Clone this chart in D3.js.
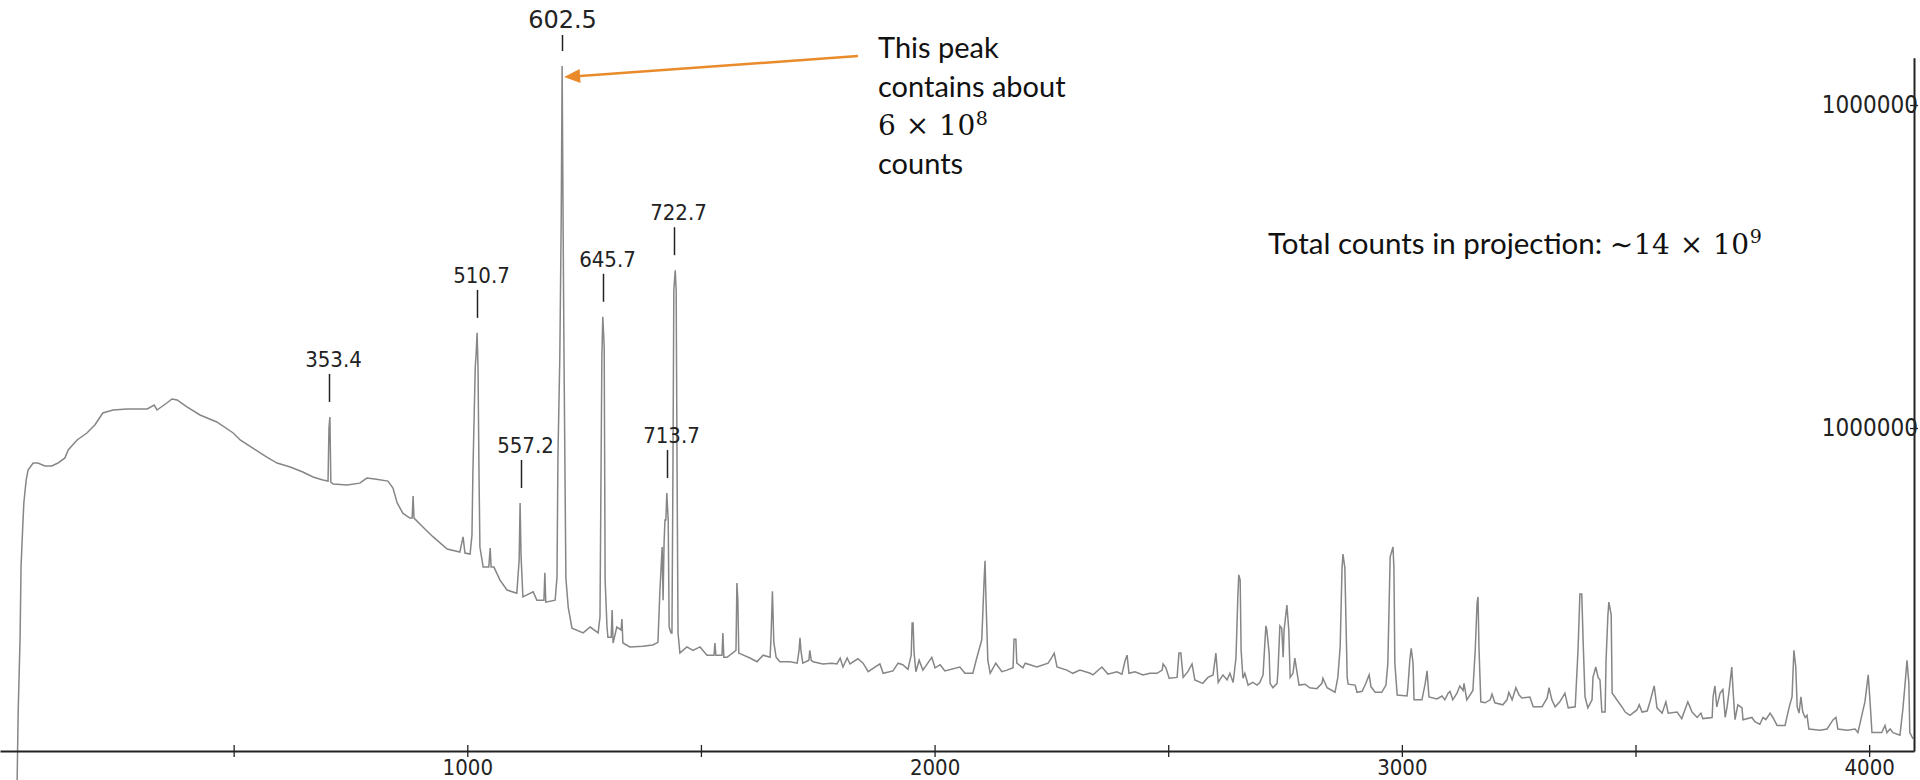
<!DOCTYPE html>
<html>
<head>
<meta charset="utf-8">
<script src="https://cdn.jsdelivr.net/npm/d3@7"></script>
<style>
  html, body { margin: 0; padding: 0; background: #fff; overflow: hidden; }
</style>
</head>
<body>
<div id="chart"></div>
<script>
// projection spectrum: [channel, counts]
const spectrum = [
  [36,70.5e3],[39,133.9e3],[43,225e3],[45,371e3],[49,508e3],[51,586e3],[56,690e3],[60,741e3],[71,779e3],[81,779e3],
  [96,763e3],[111,763e3],[124,779e3],[139,808e3],[146,855e3],[165,918e3],[186,965e3],[203,1022e3],[220,1113e3],[242,1137e3],
  [272,1145e3],[315,1145e3],[330,1178e3],[336,1137e3],[357,1195e3],[368,1230e3],[379,1221e3],[400,1162e3],[428,1097e3],[464,1044e3],
  [499,965e3],[514,918e3],[541,867e3],[571,813e3],[593,779e3],[621,757e3],[648,731e3],[670,705e3],[691,690e3],[702,685e3],
  [704,1000e3],[706,1082e3],[708,680e3],[713,671e3],[743,666e3],[770,675e3],[785,700e3],[802,695e3],[830,685e3],[841,652e3],
  [850,586e3],[862,545e3],[877,526e3],[882,526e3],[884,616e3],[886,526e3],[905,494e3],[927,460e3],[957,422e3],[984,413e3],
  [991,460e3],[995,410e3],[1006,407e3],[1010,466e3],[1012,725e3],[1017,1534e3],[1019,1707e3],[1021,1970e3],[1023,1534e3],[1025,741e3],
  [1027,428e3],[1034,371e3],[1046,371e3],[1049,425e3],[1051,371e3],[1057,371e3],[1070,338e3],[1085,315e3],[1106,308e3],[1111,390e3],
  [1113,586e3],[1115,404e3],[1119,300e3],[1141,311e3],[1149,293e3],[1164,293e3],[1166,356e3],[1168,289e3],[1188,293e3],[1192,346e3],
  [1194,813e3],[1198,1647e3],[1201,4410e3],[1203,13.2e6],[1205,4410e3],[1207,1647e3],[1211,343e3],[1216,279e3],[1224,240e3],[1248,232e3],
  [1263,242e3],[1280,232e3],[1284,260e3],[1288,1659e3],[1290,2210e3],[1293,1781e3],[1295,338e3],[1299,242e3],[1301,225e3],[1308,225e3],
  [1310,273e3],[1312,216e3],[1320,242e3],[1329,237e3],[1331,256e3],[1333,216e3],[1348,210e3],[1376,211e3],[1397,213e3],[1408,217e3],
  [1412,308e3],[1417,428e3],[1419,293e3],[1421,434e3],[1423,519e3],[1425,519e3],[1427,629e3],[1430,519e3],[1432,242e3],[1436,232e3],
  [1438,232e3],[1440,690e3],[1442,2675e3],[1445,3080e3],[1447,2675e3],[1449,725e3],[1451,232e3],[1455,201e3],[1470,210e3],[1483,205e3],
  [1498,210e3],[1513,198e3],[1528,198e3],[1530,216e3],[1532,198e3],[1545,198e3],[1547,232e3],[1549,195e3],[1556,195e3],[1575,205e3],
  [1577,331e3],[1579,293e3],[1581,201e3],[1605,194e3],[1620,189e3],[1633,198e3],[1648,195e3],[1650,225e3],[1653,312e3],[1656,217e3],
  [1661,195e3],[1669,189e3],[1691,189e3],[1706,187e3],[1710,205e3],[1712,224e3],[1714,205e3],[1718,187e3],[1731,191e3],[1733,205e3],
  [1736,191e3],[1740,189e3],[1761,186e3],[1780,187e3],[1791,186e3],[1798,194e3],[1804,182e3],[1813,194e3],[1819,186e3],[1836,193e3],
  [1847,187e3],[1858,176e3],[1873,182e3],[1883,186e3],[1890,174e3],[1911,177e3],[1922,187e3],[1932,185e3],[1943,179e3],[1950,198e3],
  [1952,249e3],[1954,249e3],[1956,203e3],[1960,176e3],[1967,191e3],[1975,178e3],[1994,195e3],[2001,181e3],[2012,185e3],[2022,177e3],
  [2054,182e3],[2065,174e3],[2082,174e3],[2089,191e3],[2101,221e3],[2106,338e3],[2108,388e3],[2110,295e3],[2114,191e3],[2119,174e3],
  [2131,187e3],[2144,176e3],[2155,178e3],[2168,181e3],[2170,222e3],[2174,222e3],[2176,187e3],[2189,181e3],[2194,187e3],[2219,182e3],
  [2243,187e3],[2251,195e3],[2256,201e3],[2262,182e3],[2283,178e3],[2296,174e3],[2311,178e3],[2333,174e3],[2339,172e3],[2358,182e3],
  [2371,173e3],[2390,176e3],[2401,173e3],[2408,191e3],[2412,198e3],[2416,174e3],[2429,176e3],[2446,172e3],[2461,174e3],[2476,174e3],
  [2487,178e3],[2489,186e3],[2495,181e3],[2502,168e3],[2519,169e3],[2523,201e3],[2527,201e3],[2532,169e3],[2542,176e3],[2551,186e3],
  [2557,166e3],[2574,162e3],[2585,169e3],[2596,172e3],[2602,201e3],[2607,163e3],[2617,172e3],[2626,166e3],[2632,174e3],[2639,163e3],
  [2645,194e3],[2649,300e3],[2651,351e3],[2654,338e3],[2656,205e3],[2660,168e3],[2664,174e3],[2671,160e3],[2681,163e3],[2690,160e3],
  [2696,163e3],[2703,172e3],[2705,194e3],[2709,244e3],[2711,237e3],[2716,201e3],[2718,162e3],[2724,157e3],[2733,162e3],[2735,178e3],
  [2739,244e3],[2743,240e3],[2746,195e3],[2748,237e3],[2754,283e3],[2758,237e3],[2761,169e3],[2767,174e3],[2771,194e3],[2776,174e3],
  [2780,160e3],[2793,161e3],[2803,157e3],[2818,156e3],[2829,162e3],[2831,168e3],[2840,157e3],[2857,152e3],[2863,169e3],[2868,210e3],
  [2872,369e3],[2874,407e3],[2878,369e3],[2883,169e3],[2885,161e3],[2900,160e3],[2904,152e3],[2915,153e3],[2923,162e3],[2930,172e3],
  [2934,158e3],[2943,152e3],[2957,152e3],[2966,160e3],[2970,187e3],[2975,399e3],[2981,428e3],[2983,371e3],[2985,187e3],[2990,149e3],
  [3011,148e3],[3013,158e3],[3017,191e3],[3020,208e3],[3024,187e3],[3026,144e3],[3043,144e3],[3050,162e3],[3054,177e3],[3058,147e3],
  [3075,145e3],[3086,148e3],[3092,144e3],[3099,151e3],[3103,153e3],[3109,144e3],[3118,151e3],[3124,159e3],[3131,154e3],[3133,162e3],
  [3139,144e3],[3152,154e3],[3157,205e3],[3161,287e3],[3163,300e3],[3165,210e3],[3169,142e3],[3178,141e3],[3189,144e3],[3193,150e3],
  [3199,141e3],[3216,139e3],[3225,144e3],[3229,152e3],[3236,144e3],[3244,157e3],[3251,149e3],[3257,146e3],[3274,147e3],[3281,137e3],
  [3300,137e3],[3311,146e3],[3315,157e3],[3321,144e3],[3328,137e3],[3338,142e3],[3349,151e3],[3356,136e3],[3371,137e3],[3377,205e3],
  [3381,306e3],[3385,306e3],[3388,217e3],[3392,147e3],[3398,136e3],[3407,144e3],[3409,169e3],[3415,182e3],[3420,169e3],[3424,166e3],
  [3428,132e3],[3435,132e3],[3437,191e3],[3441,264e3],[3443,289e3],[3448,264e3],[3450,151e3],[3456,147e3],[3463,142e3],[3471,137e3],
  [3478,132e3],[3488,129e3],[3503,134e3],[3508,139e3],[3514,132e3],[3525,133e3],[3531,142e3],[3540,159e3],[3546,136e3],[3557,131e3],
  [3565,142e3],[3570,131e3],[3589,132e3],[3599,126e3],[3612,142e3],[3621,132e3],[3632,127e3],[3640,131e3],[3644,126e3],[3664,127e3],
  [3666,147e3],[3670,159e3],[3674,137e3],[3681,151e3],[3687,155e3],[3692,127e3],[3696,137e3],[3700,152e3],[3706,182e3],[3709,152e3],
  [3713,125e3],[3719,139e3],[3728,136e3],[3730,125e3],[3749,127e3],[3756,123e3],[3766,121e3],[3773,127e3],[3779,125e3],[3788,131e3],
  [3794,127e3],[3803,120e3],[3820,120e3],[3829,137e3],[3835,147e3],[3839,205e3],[3843,182e3],[3846,137e3],[3850,131e3],[3854,147e3],
  [3858,132e3],[3863,127e3],[3867,129e3],[3871,117e3],[3895,116e3],[3910,117e3],[3923,125e3],[3929,127e3],[3933,117e3],[3953,116e3],
  [3970,117e3],[3976,114e3],[3987,134e3],[3991,142e3],[3998,172e3],[4002,142e3],[4006,114e3],[4027,114e3],[4034,120e3],[4038,114e3],
  [4045,117e3],[4051,114e3],[4066,112e3],[4072,134e3],[4077,162e3],[4081,191e3],[4085,162e3],[4087,114e3],[4094,109e3]
];

// labelled peaks (energy in keV)
const peakLabels = ["353.4", "510.7", "557.2", "602.5", "645.7", "713.7", "722.7"];
const peakChannels = [704, 1021, 1115, 1203, 1290, 1427, 1442];
const peakTopCounts = [1082e3, 1970e3, 586e3, 13.2e6, 2210e3, 629e3, 3080e3];

const xTickValues = [500, 1000, 1500, 2000, 2500, 3000, 3500, 4000];
const xTickLabels = ["", "1000", "", "2000", "", "3000", "", "4000"];
const yTickValues = [1e6, 1e7];
// the picture shows both labels truncated to the same text
const yTickLabels = ["1000000", "1000000"];

const noteLines = ["This peak", "contains about", "", "counts"];
const totalText = "Total counts in projection: ";

const W = 1920, H = 780;
const NARROW = "'Liberation Sans Narrow', 'Arial Narrow', 'DejaVu Sans Condensed', sans-serif";
const SANS = "Lato, 'Open Sans', sans-serif";
const SERIF = "'DejaVu Serif', serif";

const svg = d3.select("#chart").append("svg")
    .attr("width", W)
    .attr("height", H);

const x = d3.scaleLinear().domain([0, 4096]).range([0, 1914]);
const y = d3.scaleLog().domain([1e5, 1.4e7]).range([751, 751 - 323 * Math.log10(140)]);

// spectrum line
const line = d3.line()
    .x(d => x(d[0]))
    .y(d => y(d[1]));

svg.append("path")
    .datum(spectrum)
    .attr("d", line)
    .attr("fill", "none")
    .attr("stroke", "#868686")
    .attr("stroke-width", 1.5)
    .attr("stroke-linejoin", "miter");

// bottom axis (sits at 1e5)
const gx = svg.append("g")
    .attr("transform", `translate(0,${y(1e5)})`)
    .call(d3.axisBottom(x)
        .tickValues(xTickValues)
        .tickFormat((d, i) => xTickLabels[i])
        .tickSize(6)
        .tickSizeOuter(0));
gx.select(".domain").attr("stroke", "#222").attr("stroke-width", 2);
gx.selectAll(".tick line").attr("y1", -6).attr("y2", 6).attr("stroke", "#222").attr("stroke-width", 1.3);
gx.selectAll(".tick text")
    .attr("y", 8)
    .attr("font-family", NARROW)
    .attr("font-size", 22)
    .attr("fill", "#222");

// right axis
const gy = svg.append("g")
    .attr("transform", "translate(1914,0)")
    .call(d3.axisLeft(y)
        .tickValues(yTickValues)
        .tickFormat((d, i) => yTickLabels[i])
        .tickSize(4)
        .tickSizeOuter(0));
gy.select(".domain").attr("stroke", "#222").attr("stroke-width", 2);
gy.selectAll(".tick line").attr("x1", 4).attr("x2", -4).attr("stroke", "#222").attr("stroke-width", 1.3);
gy.selectAll(".tick text")
    .attr("text-anchor", "end")
    .attr("x", 4)
    .attr("font-family", NARROW)
    .attr("font-size", 24)
    .attr("fill", "#222");

// peak markers and energies
const peaks = peakLabels.map((lab, i) => ({ lab, ch: peakChannels[i], top: peakTopCounts[i] }));
const pg = svg.append("g");
peaks.forEach(p => {
    const px = Math.round(x(p.ch)) + 0.5;
    const py = y(p.top);
    const tickTop = Math.max(py - 43, 35);
    pg.append("line")
        .attr("x1", px).attr("x2", px)
        .attr("y1", py - 15).attr("y2", tickTop)
        .attr("stroke", "#222")
        .attr("stroke-width", 1.5);
    const big = p.lab === "602.5";
    pg.append("text")
        .attr("x", px + (big ? 0 : 4))
        .attr("y", tickTop - 7)
        .attr("text-anchor", "middle")
        .attr("font-family", big ? "'DejaVu Sans', sans-serif" : NARROW)
        .attr("font-size", big ? 24 : 22)
        .attr("fill", "#222")
        .text(p.lab);
});

// annotation for the biggest peak
const note = svg.append("text")
    .attr("font-family", SANS)
    .attr("font-size", 29)
    .attr("fill", "#111");
noteLines.forEach((t, i) => {
    const ts = note.append("tspan").attr("x", 878).attr("y", 58 + i * 38.5);
    if (i === 2) {
        ts.attr("font-family", SERIF).attr("font-size", 28).attr("letter-spacing", 0.5).text("6 \u00d7 10");
        note.append("tspan").attr("font-family", SERIF).attr("font-size", 19).attr("dy", -10).text("8");
    } else {
        ts.text(t);
    }
});

const tip = [x(peakChannels[3]) + 2, y(peakTopCounts[3]) + 11];
const tail = [858, 56];
const dx = tip[0] - tail[0], dy = tip[1] - tail[1];
const len = Math.hypot(dx, dy);
const u = [dx / len, dy / len], n = [-u[1], u[0]];
const base = [tip[0] - 16 * u[0], tip[1] - 16 * u[1]];
svg.append("line")
    .attr("x1", tail[0]).attr("y1", tail[1])
    .attr("x2", base[0]).attr("y2", base[1])
    .attr("stroke", "#E98B2A")
    .attr("stroke-width", 2.5);
svg.append("polygon")
    .attr("points", [tip, [base[0] + 7 * n[0], base[1] + 7 * n[1]], [base[0] - 7 * n[0], base[1] - 7 * n[1]]].map(p => p.join(",")).join(" "))
    .attr("fill", "#E98B2A");

// total counts
const total = svg.append("text")
    .attr("x", 1268)
    .attr("y", 254)
    .attr("font-family", SANS)
    .attr("font-size", 29.5)
    .attr("fill", "#111");
total.append("tspan").text(totalText);
total.append("tspan").attr("font-family", SERIF).attr("font-size", 28).attr("letter-spacing", 0.5).text("\u223c14 \u00d7 10");
total.append("tspan").attr("font-family", SERIF).attr("font-size", 19).attr("dy", -11).text("9");
</script>
</body>
</html>
